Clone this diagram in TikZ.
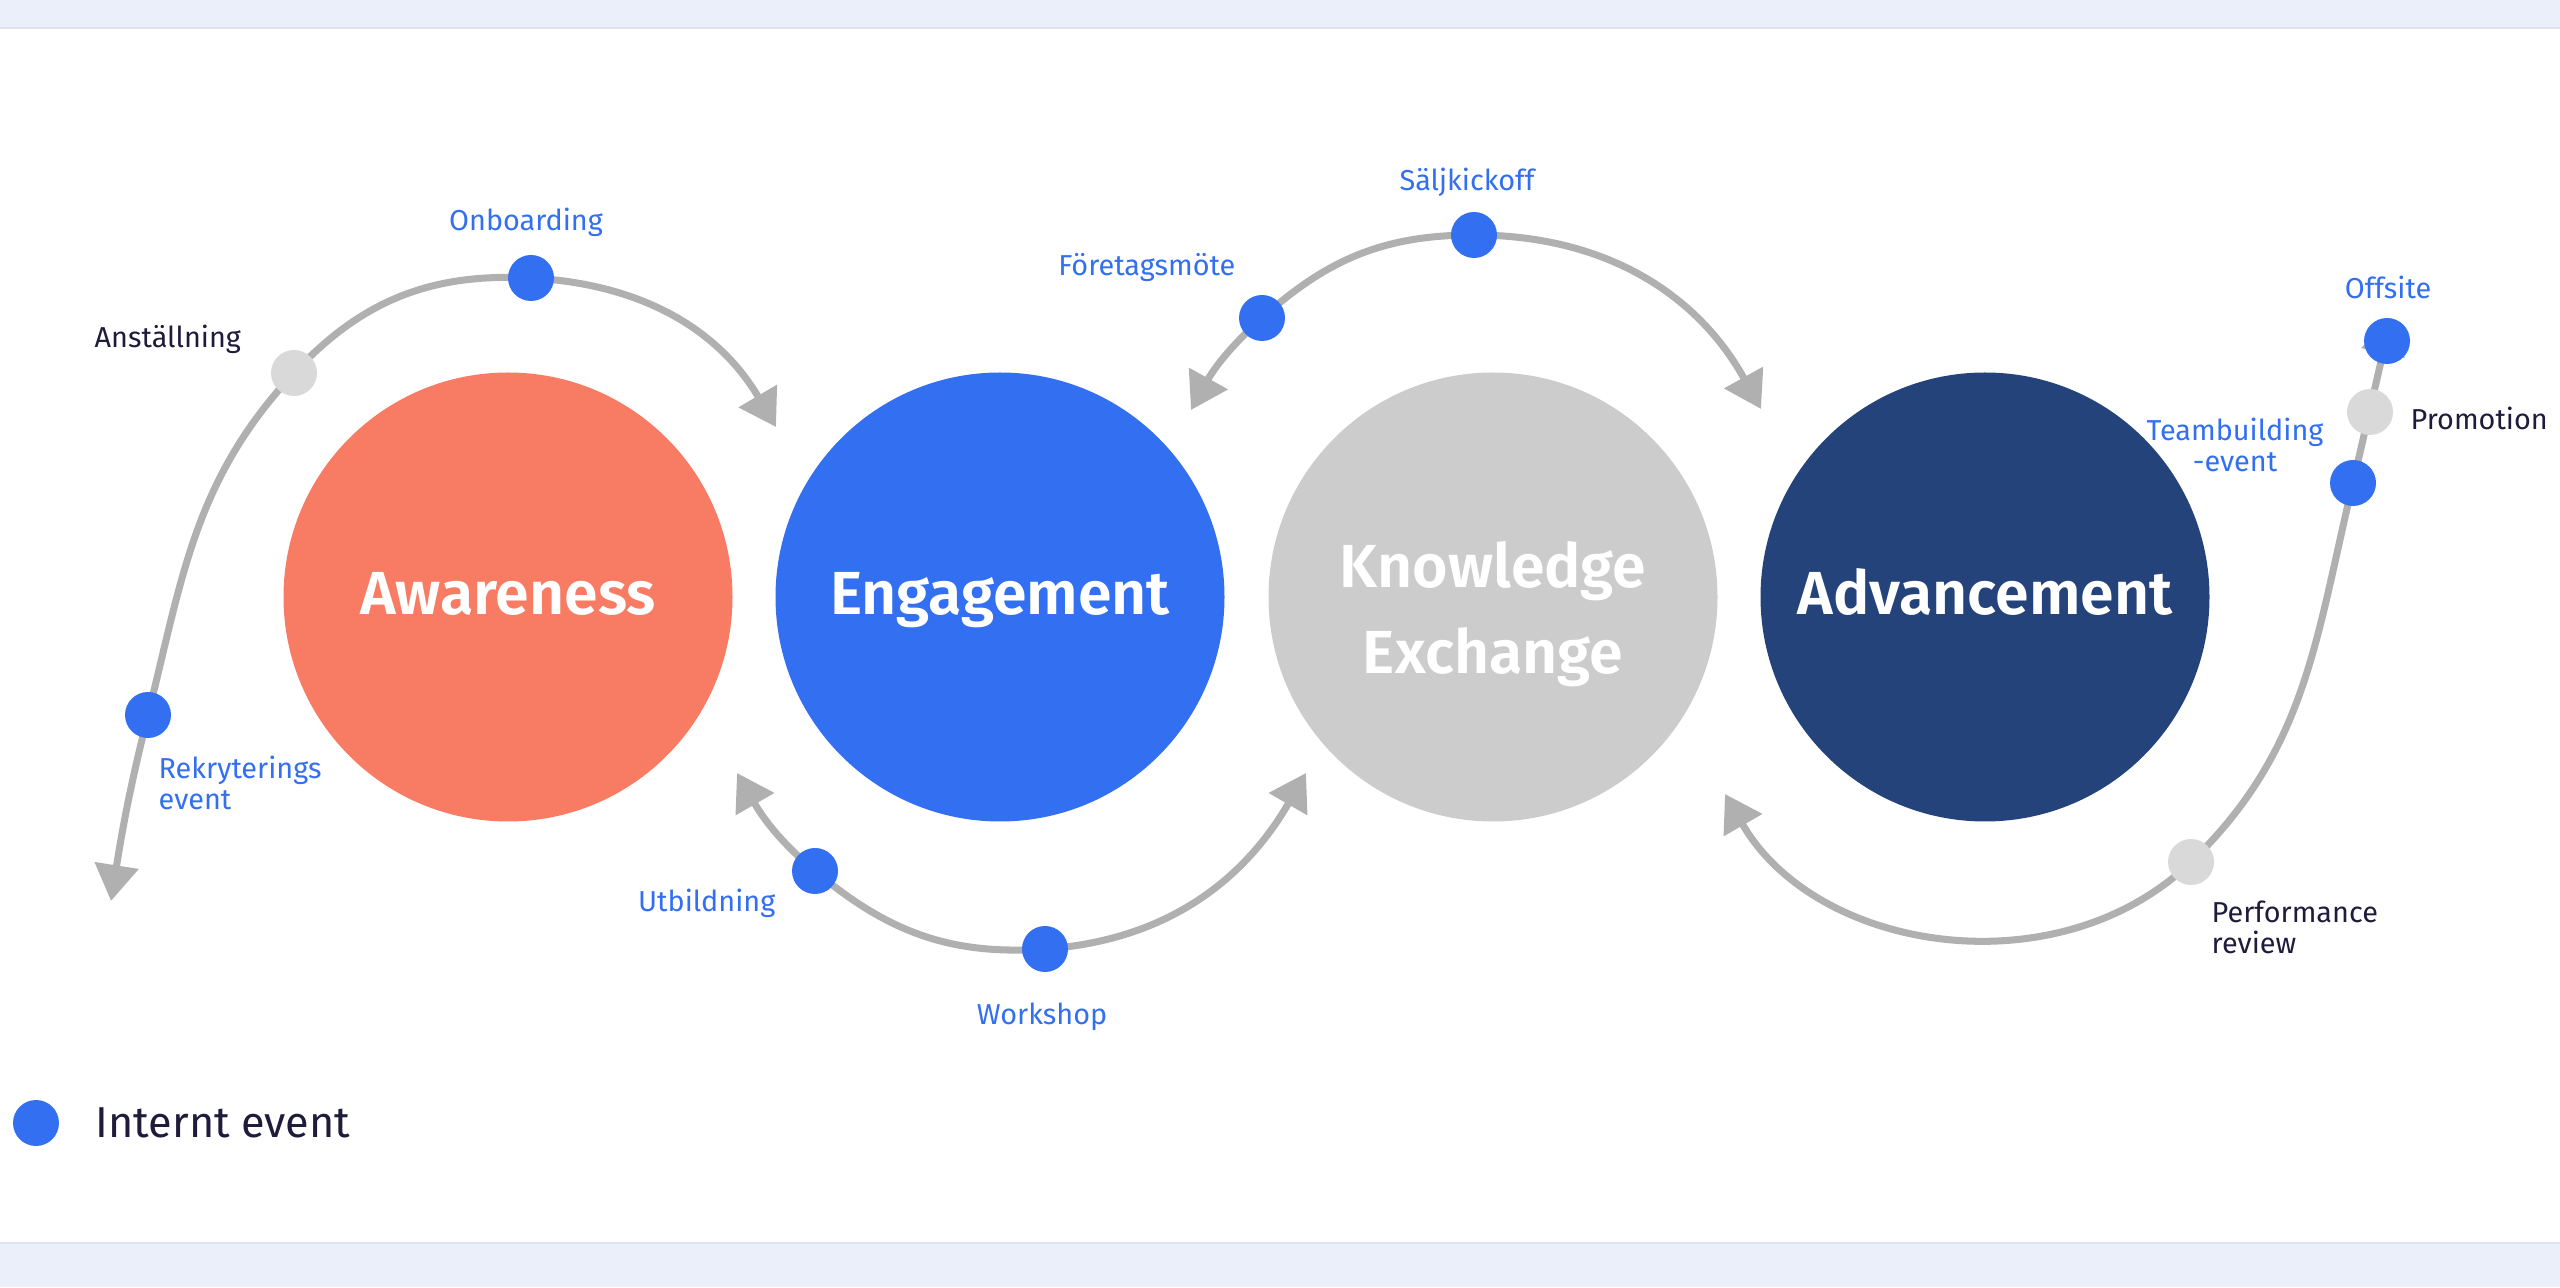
\documentclass[tikz,border=0pt]{standalone}
\usepackage{fontspec}
\setmainfont{Fira Sans}
\newfontfamily\stagefont{Fira Sans SemiBold}
\usepackage{tikz}
\usetikzlibrary{arrows.meta, backgrounds}

\definecolor{coral}{HTML}{F87C63}
\definecolor{evblue}{HTML}{326FF1}
\definecolor{kgrey}{HTML}{CCCCCC}
\definecolor{navy}{HTML}{25437B}
\definecolor{linegrey}{HTML}{B0B0B0}
\definecolor{dotgrey}{HTML}{D9D9D9}
\definecolor{ink}{HTML}{1E1B3B}
\definecolor{band}{HTML}{EBEFF9}

\tikzset{
  stage/.style={circle, minimum size=4.49cm, inner sep=0pt, text=white, align=center,
    font=\fontsize{17.3}{24.5}\selectfont\stagefont},
  flow/.style={draw=linegrey, line width=2pt,
    {Triangle[length=0.36cm, width=0.43cm]}-{Triangle[length=0.36cm, width=0.43cm]}},
  intern/.style={circle, fill=evblue, minimum size=0.46cm, inner sep=0pt},
  extern/.style={circle, fill=dotgrey, minimum size=0.46cm, inner sep=0pt},
  bluelbl/.style={text=evblue, inner sep=0pt, font=\fontsize{8.2}{8.8}\selectfont},
  inklbl/.style={text=ink, inner sep=0pt, font=\fontsize{8.2}{8.8}\selectfont}
}

\begin{document}
\begin{tikzpicture}
    \useasboundingbox (0,0) rectangle (25.6,12.87);

    \node[stage, fill=coral] (aware) at (5.08,6.90) {\strut Awareness};
    \node[stage, fill=evblue] (engage) at (10.00,6.90) {\strut Engagement};
    \node[stage, fill=kgrey] (know) at (14.93,6.90) {};
    \node[stage, fill=none] (knowtxt) at (14.93,6.74) {\strut Knowledge\\\strut Exchange};
    \node[stage, fill=navy] (advance) at (19.85,6.90) {\strut Advancement};

    \node[intern] (rek) at (1.48,5.72) {};
    \node[extern] (anst) at (2.94,9.14) {};
    \node[intern] (onb) at (5.31,10.09) {};
    \node[intern] (foret) at (12.62,9.69) {};
    \node[intern] (salj) at (14.74,10.52) {};
    \node[intern] (utb) at (8.15,4.16) {};
    \node[intern] (work) at (10.45,3.38) {};
    \node[extern] (perf) at (21.91,4.25) {};
    \node[intern] (team) at (23.53,8.04) {};
    \node[extern] (promo) at (23.70,8.75) {};
    \node[intern] (offs) at (23.87,9.46) {};

    \coordinate (a1s) at (1.11,3.86);
    \coordinate (a1e) at (7.76,8.60);
    \coordinate (a2s) at (11.91,8.77);
    \coordinate (a2e) at (17.61,8.78);
    \coordinate (a3s) at (7.37,5.14);
    \coordinate (a3e) at (13.06,5.14);
    \coordinate (a4s) at (17.25,4.93);
    \coordinate (a4e) at (23.91,9.69);

    \begin{scope}[on background layer]
    \fill[white] (0,0) rectangle (25.6,12.87);
    \fill[band] (0,12.59) rectangle (25.6,12.87);
    \fill[band] (0,0) rectangle (25.6,0.44);
    \draw[band!80!black!25!band, line width=0.4pt] (0,12.59) -- (25.6,12.59);
    \draw[band!80!black!25!band, line width=0.4pt] (0,0.44) -- (25.6,0.44);
    \draw[flow] (a1s) to[out=81, in=256] (rek.center) to[out=76, in=227] (anst.center)
        to[out=47, in=177] (onb.center) to[out=-3, in=120.5] (a1e);
    \draw[flow] (a2s) to[out=61, in=222] (foret.center) to[out=42, in=180] (salj.center)
        to[out=0, in=119] (a2e);
    \draw[flow] (a3s) to[out=-60, in=140] (utb.center) to[out=-40, in=184] (work.center)
        to[out=4, in=240] (a3e);
    \draw[flow] (a4s) to[out=-60, in=224] (perf.center) to[out=44, in=256.5] (team.center)
        -- (a4e);
    \end{scope}

    \node[bluelbl] (onbtxt) at (5.26,10.65) {Onboarding};
    \node[inklbl, anchor=west] (ansttxt) at (0.94,9.48) {Anställning};
    \node[bluelbl, anchor=west, align=left] (rektxt) at (1.58,5.04) {Rekryterings\\event};
    \node[bluelbl, anchor=east] (forettxt) at (12.36,10.19) {Företagsmöte};
    \node[bluelbl] (saljtxt) at (14.67,11.05) {Säljkickoff};
    \node[bluelbl] (offstxt) at (23.88,10.00) {Offsite};
    \node[inklbl, anchor=west] (promotxt) at (24.10,8.69) {Promotion};
    \node[bluelbl, align=center] (teamtxt) at (22.35,8.42) {Teambuilding\\-event};
    \node[inklbl, anchor=west, align=left] (perftxt) at (22.11,3.60) {Performance\\review};
    \node[bluelbl, anchor=east] (utbtxt) at (7.76,3.84) {Utbildning};
    \node[bluelbl] (worktxt) at (10.42,2.70) {Workshop};

    \node[intern] (legdot) at (0.36,1.64) {};
    \node[anchor=west, text=ink, inner sep=0pt, font=\fontsize{12.3}{15}\selectfont] (legtxt)
        at (0.95,1.64) {Internt event};
\end{tikzpicture}
\end{document}
